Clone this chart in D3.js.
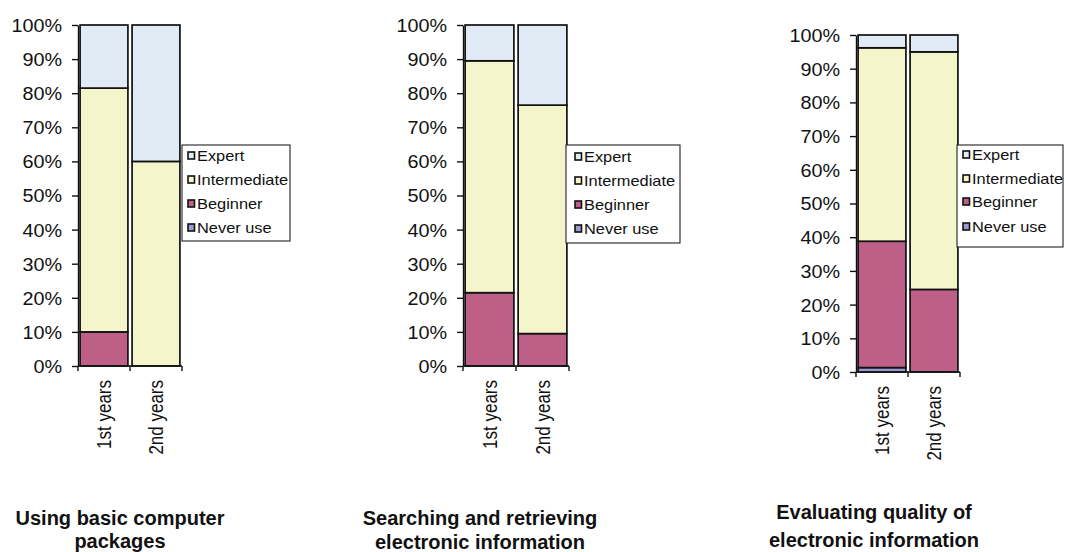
<!DOCTYPE html>
<html>
<head>
<meta charset="utf-8">
<script src="https://cdn.jsdelivr.net/npm/d3@7"></script>
<style>
  html, body { margin: 0; padding: 0; background: #ffffff; }
  svg { display: block; }
  text { font-family: "Liberation Sans", Arial, Helvetica, sans-serif; fill: #111; }
</style>
</head>
<body>
<svg id="chart" width="1066" height="552"></svg>
<script>
// Survey of self-rated skill levels, percent of each year group.
const categories = ["1st years", "2nd years"];
const seriesNames = ["Never use", "Beginner", "Intermediate", "Expert"];
const legendOrder = ["Expert", "Intermediate", "Beginner", "Never use"];
const yTicks = [0, 10, 20, 30, 40, 50, 60, 70, 80, 90, 100];

const panelTitles = [
  ["Using basic computer", "packages"],
  ["Searching and retrieving", "electronic information"],
  ["Evaluating quality of", "electronic information"]
];

// One entry per panel, each holding [1st years, 2nd years]
const neverUse     = [[0, 0],      [0, 0],      [1.3, 0]];
const beginner     = [[10, 0],     [21.5, 9.5], [37.5, 24.5]];
const intermediate = [[71.5, 60],  [68, 67],    [57.4, 70.5]];
const expert       = [[18.5, 40],  [10.5, 23.5],[3.8, 5]];

const colors = {
  "Never use": "#9b9bd2",
  "Beginner": "#bd5f86",
  "Intermediate": "#f4f5cb",
  "Expert": "#e0ebf5"
};

// Placement of each small chart on the page
const layout = [
  { left: 78,  right: 182, top: 25, bottom: 366, legend: { x: 182, y: 145, w: 108, h: 96,  mx: 188, base: [161, 185, 209, 233] }, titleX: 120, titleY: [525, 548] },
  { left: 463, right: 569, top: 25, bottom: 366, legend: { x: 566, y: 145, w: 114, h: 98,  mx: 575, base: [162, 186, 210, 234] }, titleX: 480, titleY: [525, 549] },
  { left: 856, right: 960, top: 35, bottom: 372, legend: { x: 957, y: 145, w: 106, h: 102, mx: 963, base: [160, 184, 207, 232] }, titleX: 874, titleY: [519, 547] }
];

const svg = d3.select("#chart");

layout.forEach((L, p) => {
  const rows = categories.map((c, i) => ({
    category: c,
    "Never use": neverUse[p][i],
    "Beginner": beginner[p][i],
    "Intermediate": intermediate[p][i],
    "Expert": expert[p][i]
  }));
  const stacked = d3.stack().keys(seriesNames)(rows);

  const x = d3.scaleBand().domain(categories).range([L.left, L.right])
    .paddingInner(0.08).paddingOuter(0.04);
  const y = d3.scaleLinear().domain([0, 100]).range([L.bottom, L.top]);

  const g = svg.append("g");

  // stacked segments
  stacked.forEach(s => {
    g.append("g").selectAll("rect").data(s).join("rect")
      .attr("x", d => x(d.data.category))
      .attr("width", x.bandwidth())
      .attr("y", d => y(d[1]))
      .attr("height", d => y(d[0]) - y(d[1]))
      .attr("fill", colors[s.key])
      .attr("stroke", "#111")
      .attr("stroke-width", 1.7);
  });

  // value axis
  const yAxis = g.append("g")
    .attr("transform", `translate(${L.left},0)`)
    .call(d3.axisLeft(y).tickValues(yTicks).tickSize(6).tickSizeOuter(0)
      .tickFormat(d => d + "%"));
  yAxis.select(".domain").attr("stroke", "#111").attr("stroke-width", 1.4);
  yAxis.selectAll(".tick line").attr("stroke", "#111").attr("stroke-width", 1.4);
  yAxis.selectAll(".tick text")
    .attr("x", 0)
    .attr("dy", "0.36em")
    .attr("transform", "translate(-16,0) scale(1.1,1)")
    .style("font-size", "18px")
    .style("font-family", "'Liberation Sans', Arial, sans-serif")
    .attr("fill", "#111");

  // category axis with marks between categories
  const edges = [L.left].concat(categories.map(c => x(c) + x.bandwidth() + x.step() * x.paddingInner() / 2));
  edges[edges.length - 1] = L.right;
  g.append("line")
    .attr("x1", L.left).attr("x2", L.right)
    .attr("y1", L.bottom).attr("y2", L.bottom)
    .attr("stroke", "#111").attr("stroke-width", 1.4);
  g.selectAll(".xtick").data(edges).join("line")
    .attr("class", "xtick")
    .attr("x1", d => d).attr("x2", d => d)
    .attr("y1", L.bottom).attr("y2", L.bottom + 5)
    .attr("stroke", "#111").attr("stroke-width", 1.4);
  g.selectAll(".xlab").data(categories).join("text")
    .attr("class", "xlab")
    .attr("transform", d => `translate(${x(d) + x.bandwidth() / 2},${L.bottom + 14}) rotate(-90) scale(1,1.15)`)
    .attr("text-anchor", "end")
    .attr("dy", "0.36em")
    .style("font-size", "17px")
    .text(d => d);

  // legend
  const lg = svg.append("g");
  lg.append("rect")
    .attr("x", L.legend.x).attr("y", L.legend.y)
    .attr("width", L.legend.w).attr("height", L.legend.h)
    .attr("fill", "#ffffff").attr("stroke", "#222").attr("stroke-width", 1.1);
  legendOrder.forEach((name, i) => {
    const base = L.legend.base[i];
    lg.append("rect")
      .attr("x", L.legend.mx).attr("y", base - 9)
      .attr("width", 6.5).attr("height", 7)
      .attr("fill", colors[name]).attr("stroke", "#111").attr("stroke-width", 1.6);
    lg.append("text")
      .attr("transform", `translate(${L.legend.mx + 9},${base}) scale(1.13,1)`)
      .style("font-size", "14.5px")
      .text(name);
  });

  // panel title
  const t = svg.append("text")
    .attr("text-anchor", "middle")
    .style("font-size", "20px")
    .style("font-weight", "bold");
  panelTitles[p].forEach((line, i) => {
    t.append("tspan").attr("x", L.titleX).attr("y", L.titleY[i]).text(line);
  });
});
</script>
</body>
</html>
